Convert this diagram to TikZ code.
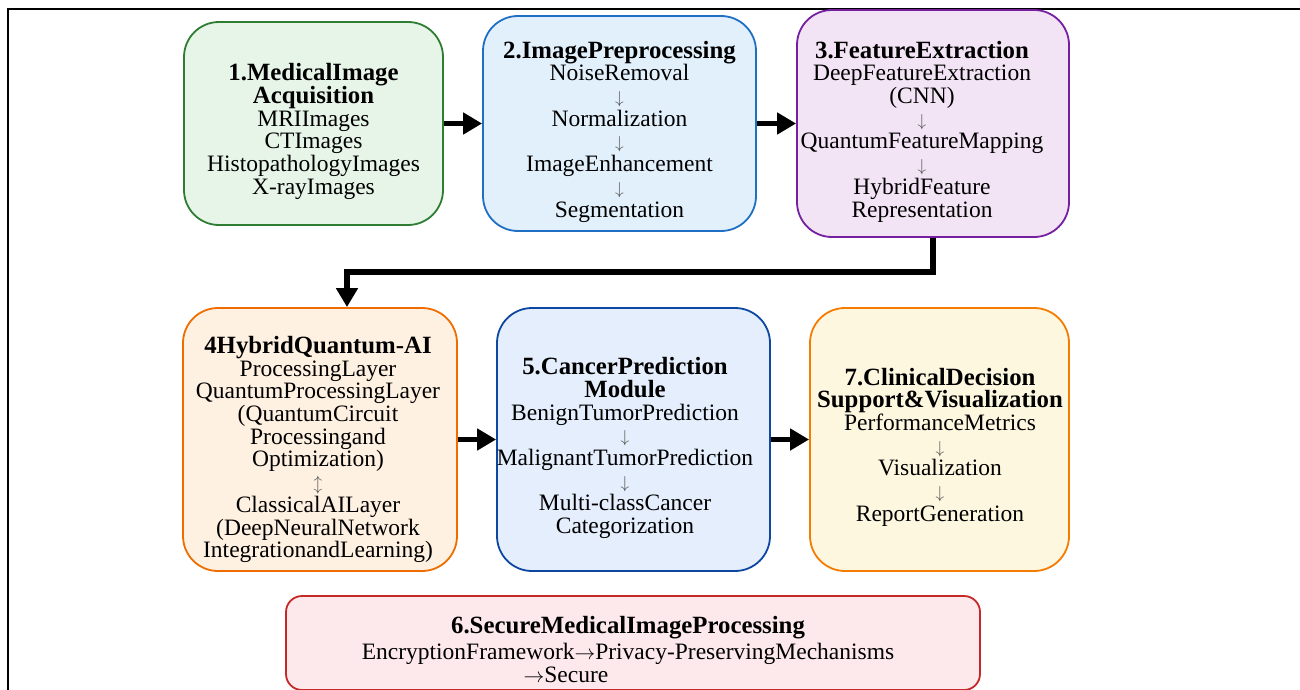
\documentclass[tikz,border=0pt]{standalone}
\usepackage{fontspec}
\setmainfont{Liberation Serif}
\usetikzlibrary{arrows.meta}
\definecolor{gfill}{HTML}{E7F4E8}\definecolor{gline}{HTML}{2E7D32}
\definecolor{bfill}{HTML}{E2F0FC}\definecolor{bline}{HTML}{1F6FC5}
\definecolor{pfill}{HTML}{F3E4F5}\definecolor{pline}{HTML}{7420A0}
\definecolor{ofill}{HTML}{FFF1E1}\definecolor{oline}{HTML}{EF6C00}
\definecolor{cfill}{HTML}{E4EEFC}\definecolor{cline}{HTML}{0D47A1}
\definecolor{yfill}{HTML}{FEF7E0}\definecolor{yline}{HTML}{F57C00}
\definecolor{rfill}{HTML}{FDE9EC}\definecolor{rline}{HTML}{C62828}
\definecolor{arrgray}{HTML}{555555}
\newcommand{\dn}{{\color{arrgray}\fontsize{16}{22.7}\selectfont$\downarrow$}}
\newcommand{\ud}{{\color{arrgray}\fontsize{16}{22.7}\selectfont$\updownarrow$}}
\newcommand{\ra}{{\fontsize{21}{23.5}\selectfont$\rightarrow$}}
\newcommand{\ttl}[1]{{\fontsize{24.8}{22.7}\selectfont\bfseries #1}}
\begin{document}
\begin{tikzpicture}[x=1pt,y=-1pt,
  box/.style={draw, rounded corners=35pt, line width=1.8pt, inner sep=0pt},
  txt/.style={align=center, inner sep=0pt, font=\fontsize{23.5}{22.7}\selectfont},
  bigarrow/.style={line width=5.5pt, -{Triangle[length=19pt,width=21pt]}}]
\useasboundingbox (0,0) rectangle (1300,690);
\draw[line width=2.5pt] (8,691) -- (8,9) -- (1301,9);

\node[box, fill=gfill, draw=gline, minimum width=259pt, minimum height=203pt] (b1) at (313.5,123.5) {};
\node[box, fill=bfill, draw=bline, minimum width=273pt, minimum height=215pt] (b2) at (619.5,123.5) {};
\node[box, fill=pfill, draw=pline, minimum width=272pt, minimum height=227pt] (b3) at (933,123.5) {};
\node[box, fill=ofill, draw=oline, minimum width=274pt, minimum height=263pt] (b4) at (320,439.5) {};
\node[box, fill=cfill, draw=cline, minimum width=273pt, minimum height=263pt] (b5) at (633.5,439.5) {};
\node[box, fill=yfill, draw=yline, minimum width=259pt, minimum height=263pt] (b7) at (939.5,439.5) {};
\node[box, rounded corners=16pt, fill=rfill, draw=rline, minimum width=694pt, minimum height=94pt] (b6) at (633,643) {};

\node[txt] (t1) at (313.5,131.5) {\ttl{1.MedicalImage}\\\ttl{Acquisition}\\MRIImages\\CTImages\\HistopathologyImages\\X-rayImages};
\node[txt] (t2) at (619.5,131.5) {\ttl{2.ImagePreprocessing}\\NoiseRemoval\\\dn\\Normalization\\\dn\\ImageEnhancement\\\dn\\Segmentation};
\node[txt] (t3) at (922,131.5) {\ttl{3.FeatureExtraction}\\DeepFeatureExtraction\\(CNN)\\\dn\\QuantumFeatureMapping\\\dn\\HybridFeature\\Representation};
\node[txt] (t4) at (318,449.5) {\ttl{4HybridQuantum-AI}\\ProcessingLayer\\QuantumProcessingLayer\\(QuantumCircuit\\Processingand\\Optimization)\\\ud\\ClassicalAILayer\\(DeepNeuralNetwork\\IntegrationandLearning)};
\node[txt] (t5) at (625,448) {\ttl{5.CancerPrediction}\\\ttl{Module}\\BenignTumorPrediction\\\dn\\MalignantTumorPrediction\\\dn\\Multi-classCancer\\Categorization};
\node[txt] (t7) at (940,447) {\ttl{7.ClinicalDecision}\\\ttl{Support\&Visualization}\\PerformanceMetrics\\\dn\\Visualization\\\dn\\ReportGeneration};
\node[txt, font=\fontsize{23.5}{23.5}\selectfont] (t6) at (628,650) {{\fontsize{24.8}{23.5}\selectfont\bfseries 6.SecureMedicalImageProcessing}\\[2pt]EncryptionFramework\ra Privacy-PreservingMechanisms\\\ra Secure\hspace*{124pt}};

\coordinate (m) at (347,272);
\draw[bigarrow] (b1.east) -- (b2.west);
\draw[bigarrow] (b2.east) -- (b3.west);
\draw[bigarrow] (b3.south) |- (m) -- (m |- b4.north);
\draw[bigarrow] (b4.east) -- (b5.west);
\draw[bigarrow] (b5.east) -- (b7.west);
\end{tikzpicture}
\end{document}
